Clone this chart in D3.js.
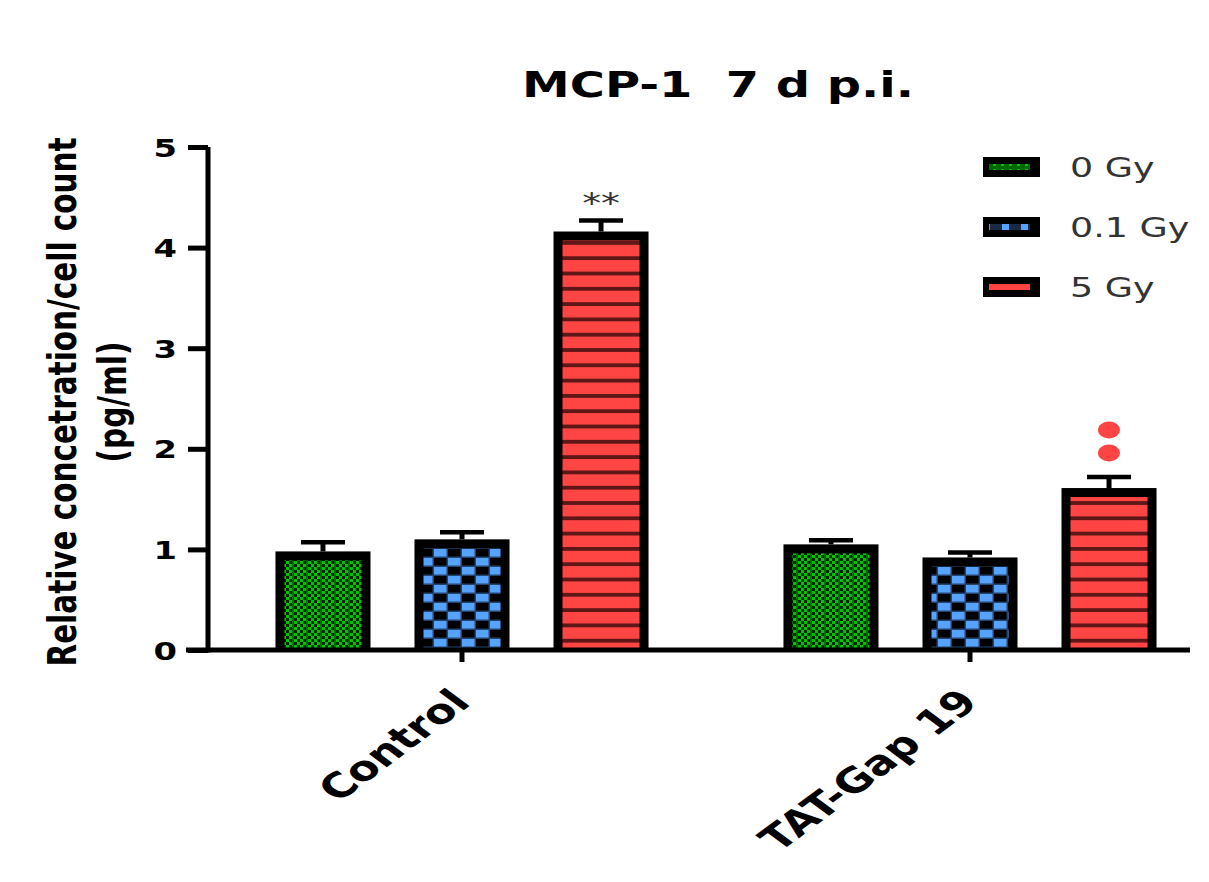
<!DOCTYPE html>
<html>
<head>
<meta charset="utf-8">
<script src="https://cdn.jsdelivr.net/npm/d3@7"></script>
<style>
  html, body { margin: 0; padding: 0; background: #fff; }
  svg { display: block; }
  text { font-family: "DejaVu Sans", Verdana, sans-serif; white-space: pre; }
</style>
</head>
<body>
<svg id="chart" width="1209" height="882"></svg>
<script>
// ---------- data ----------
const groups = ["Control", "TAT-Gap 19"];
const series = ["0 Gy", "0.1 Gy", "5 Gy"];
const controlValues = [0.98, 1.10, 4.16];
const controlErrors = [0.09, 0.07, 0.11];
const tatValues = [1.05, 0.92, 1.61];
const tatErrors = [0.04, 0.05, 0.11];
const yTicks = [0, 1, 2, 3, 4, 5];
const titleText = "MCP-1  7 d p.i.";
const yLabelLines = ["Relative concetration/cell count", "(pg/ml)"];
// significance annotations: [group, series, label]
const starMarks = [["Control", "5 Gy", "**"]];
const dotMarks = [["TAT-Gap 19", "5 Gy", 2]];

const rows = [];
groups.forEach((g, gi) => {
  const vals = gi === 0 ? controlValues : tatValues;
  const errs = gi === 0 ? controlErrors : tatErrors;
  series.forEach((s, si) => rows.push({ group: g, series: s, value: vals[si], err: errs[si] }));
});

// ---------- layout ----------
const SX = 1.35; // horizontal text stretch of the original figure
const svg = d3.select("#chart");
const y = d3.scaleLinear().domain([0, 5]).range([650, 147]);
const x0 = d3.scaleBand().domain(groups).range([208, 1224]).paddingInner(0).paddingOuter(0);
const x1 = d3.scaleBand().domain(series).range([-208.5, 208.5]).paddingInner(0.3165).paddingOuter(0.158);
const bw = x1.bandwidth();

// ---------- patterns ----------
const defs = svg.append("defs");
// green checker
const pg = defs.append("pattern").attr("id", "pat0").attr("patternUnits", "userSpaceOnUse")
  .attr("width", 14).attr("height", 6);
pg.append("rect").attr("width", 14).attr("height", 6).attr("fill", "#00c400");
[[0,0],[6,0],[3,3],[9,3]].forEach(([a,b]) => pg.append("rect").attr("x", a).attr("y", b).attr("width", 3).attr("height", 3).attr("fill", "#002800"));
pg.append("rect").attr("x", 12).attr("y", 0).attr("width", 2).attr("height", 6).attr("fill", "#006a00");
// blue checker
const pb = defs.append("pattern").attr("id", "pat1").attr("patternUnits", "userSpaceOnUse")
  .attr("width", 28).attr("height", 18);
pb.append("rect").attr("width", 28).attr("height", 18).attr("fill", "#000");
pb.append("rect").attr("x", 0).attr("y", 0).attr("width", 14).attr("height", 9).attr("fill", "#55a2ff");
pb.append("rect").attr("x", 14).attr("y", 9).attr("width", 14).attr("height", 9).attr("fill", "#55a2ff");
pb.append("rect").attr("x", 0).attr("y", 7.5).attr("width", 28).attr("height", 1.5).attr("fill", "#24446e");
pb.append("rect").attr("x", 0).attr("y", 16.5).attr("width", 28).attr("height", 1.5).attr("fill", "#24446e");
pb.append("rect").attr("x", 12.5).attr("y", 0).attr("width", 1.5).attr("height", 18).attr("fill", "#24446e");
pb.append("rect").attr("x", 26.5).attr("y", 0).attr("width", 1.5).attr("height", 18).attr("fill", "#24446e");
// red stripes
const pr = defs.append("pattern").attr("id", "pat2").attr("patternUnits", "userSpaceOnUse")
  .attr("width", 10).attr("height", 15.3);
pr.append("rect").attr("width", 10).attr("height", 15.3).attr("fill", "#ff4444");
pr.append("rect").attr("x", 0).attr("y", 11.5).attr("width", 10).attr("height", 3.8).attr("fill", "#5e1616");
// legend swatch versions
const lp1 = defs.append("pattern").attr("id", "leg1").attr("patternUnits", "userSpaceOnUse")
  .attr("width", 19).attr("height", 8);
lp1.append("rect").attr("width", 19).attr("height", 8).attr("fill", "#1a2a44");
lp1.append("rect").attr("x", 0).attr("y", 0).attr("width", 7).attr("height", 8).attr("fill", "#55a2ff");
const lp0 = defs.append("pattern").attr("id", "leg0").attr("patternUnits", "userSpaceOnUse")
  .attr("width", 8).attr("height", 6);
lp0.append("rect").attr("width", 8).attr("height", 6).attr("fill", "#006a00");
lp0.append("rect").attr("x", 2).attr("y", 2).attr("width", 3).attr("height", 3).attr("fill", "#00c400");

const patFor = s => "url(#pat" + series.indexOf(s) + ")";
const legFor = s => { const i = series.indexOf(s); return i === 2 ? "#ff4444" : "url(#leg" + i + ")"; };

// ---------- bars ----------
const bx = d => x0(d.group) + x0.bandwidth() / 2 + x1(d.series);
const B = 9; // border
const bars = svg.append("g");
bars.selectAll("rect.outer").data(rows).join("rect").attr("class", "outer")
  .attr("x", bx).attr("y", d => y(d.value)).attr("width", bw).attr("height", d => y(0) - y(d.value))
  .attr("fill", "#000");
bars.selectAll("rect.inner").data(rows).join("rect").attr("class", "inner")
  .attr("x", d => bx(d) + B).attr("y", d => y(d.value) + B).attr("width", bw - 2 * B)
  .attr("height", d => y(0) - y(d.value) - B)
  .attr("fill", d => patFor(d.series));

// error bars
const eb = svg.append("g").attr("stroke", "#000");
eb.selectAll("line.v").data(rows).join("line").attr("class", "v")
  .attr("x1", d => bx(d) + bw / 2).attr("x2", d => bx(d) + bw / 2)
  .attr("y1", d => y(d.value)).attr("y2", d => y(d.value + d.err)).attr("stroke-width", 5);
eb.selectAll("line.c").data(rows).join("line").attr("class", "c")
  .attr("x1", d => bx(d) + bw / 2 - 22).attr("x2", d => bx(d) + bw / 2 + 22)
  .attr("y1", d => y(d.value + d.err)).attr("y2", d => y(d.value + d.err)).attr("stroke-width", 4.5);

// ---------- axes ----------
const yAxis = svg.append("g").attr("transform", "translate(208,0)")
  .call(d3.axisLeft(y).tickValues(yTicks).tickSize(20).tickSizeOuter(0).tickPadding(0).tickFormat(d3.format("d")));
yAxis.select(".domain").attr("stroke-width", 5).attr("d", "M0," + y(5) + "V" + (y(0) + 2.5));
yAxis.selectAll(".tick line").attr("stroke-width", 5);
yAxis.selectAll(".tick text").attr("x", null).attr("dy", null)
  .attr("transform", "translate(-31,9) scale(" + SX + ",1)")
  .attr("font-size", 25).attr("font-weight", "bold").attr("fill", "#000")
  .attr("font-family", "DejaVu Sans, sans-serif");

const xAxis = svg.append("g").attr("transform", "translate(0," + y(0) + ")")
  .call(d3.axisBottom(x0).tickSize(12).tickSizeOuter(0).tickFormat(""));
xAxis.select(".domain").attr("stroke-width", 5).attr("d", "M186,0H1190");
xAxis.selectAll(".tick line").attr("stroke-width", 5);

// x labels (rotated)
svg.append("g").selectAll("text").data(groups).join("text")
  .attr("transform", g => "translate(" + (x0(g) + x0.bandwidth() / 2 + 10) + ",704) scale(" + SX + ",1) rotate(-45)")
  .attr("text-anchor", "end").attr("font-size", 34).attr("font-weight", "bold").attr("fill", "#000")
  .text(g => g);

// title
svg.append("text").attr("transform", "translate(718,97) scale(" + SX + ",1)")
  .attr("text-anchor", "middle").attr("font-size", 35.5).attr("font-weight", "bold").attr("fill", "#000")
  .text(titleText);

// y label
svg.append("g").selectAll("text").data(yLabelLines).join("text")
  .attr("transform", (t, i) => "translate(" + (i === 0 ? 76 : 126) + ",402) scale(" + SX + ",1) rotate(-90)")
  .attr("text-anchor", "middle").attr("font-size", 29.5).attr("font-weight", "bold").attr("fill", "#000")
  .text(t => t);

// significance marks
svg.append("g").selectAll("text").data(starMarks).join("text")
  .attr("transform", m => "translate(" + (x0(m[0]) + x0.bandwidth() / 2 + x1(m[1]) + bw / 2) + ",213) scale(" + SX + ",1)")
  .attr("text-anchor", "middle").attr("font-size", 28).attr("fill", "#333").text(m => m[2]);
dotMarks.forEach(m => {
  const cx = x0(m[0]) + x0.bandwidth() / 2 + x1(m[1]) + bw / 2;
  const row = rows.find(r => r.group === m[0] && r.series === m[1]);
  const base = y(row.value + row.err);
  svg.append("g").selectAll("ellipse").data(d3.range(m[2])).join("ellipse")
    .attr("cx", cx).attr("cy", i => base - 24 - i * 23).attr("rx", 11).attr("ry", 8.5).attr("fill", "#ff4444");
});

// legend
const lg = svg.append("g").selectAll("g").data(series).join("g")
  .attr("transform", (s, i) => "translate(983," + (167 + i * 60) + ")");
lg.append("rect").attr("x", 0).attr("y", -10).attr("width", 57).attr("height", 20).attr("fill", "#000");
lg.append("rect").attr("x", 6).attr("y", -3).attr("width", 41).attr("height", 6).attr("fill", s => legFor(s));
lg.append("text").attr("transform", "translate(87,10) scale(" + SX + ",1)")
  .attr("font-size", 27).attr("fill", "#333").text(s => s);
</script>
</body>
</html>
